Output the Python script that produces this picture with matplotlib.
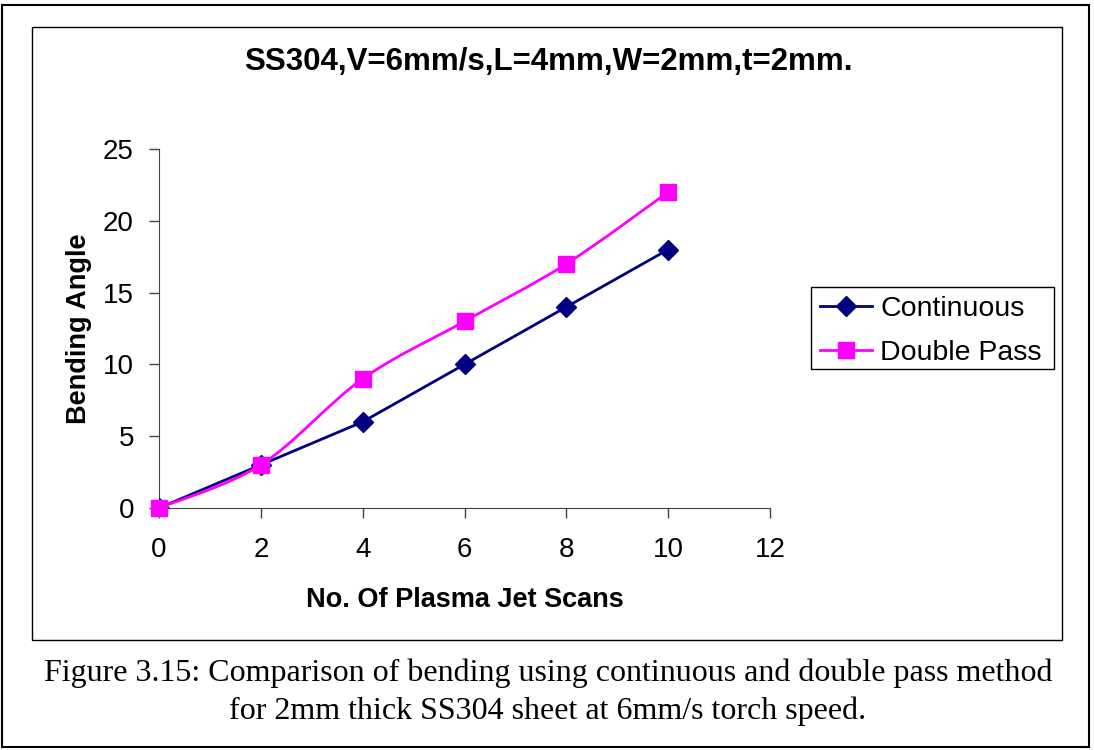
import numpy as np
import matplotlib
matplotlib.use('Agg')
import matplotlib.pyplot as plt
from matplotlib.patches import Rectangle
from matplotlib.path import Path
from matplotlib.patches import PathPatch
from matplotlib.lines import Line2D

# data #
scans = [0, 2, 4, 6, 8, 10]
continuous = [0, 3, 6, 10, 14, 18]
double_pass = [0, 3, 9, 13, 17, 22]

title = 'SS304,V=6mm/s,L=4mm,W=2mm,t=2mm.'
caption = ('Figure 3.15: Comparison of bending using continuous and double pass method\n'
           'for 2mm thick SS304 sheet at 6mm/s torch speed.')

navy = '#000080'
magenta = '#FF00FF'

plt.rcParams['font.family'] = ['Liberation Sans', 'DejaVu Sans']


def excel_smooth(xs, ys):
    # Bezier smoothing like spreadsheet "smoothed line"
    x = np.asarray(xs, float)
    y = np.asarray(ys, float)
    n = len(x)
    verts = [(x[0], y[0])]
    codes = [Path.MOVETO]
    for i in range(n - 1):
        p0 = np.array([x[max(i - 1, 0)], y[max(i - 1, 0)]])
        p1 = np.array([x[i], y[i]])
        p2 = np.array([x[i + 1], y[i + 1]])
        p3 = np.array([x[min(i + 2, n - 1)], y[min(i + 2, n - 1)]])
        c1 = p1 + (p2 - p0) / 6
        c2 = p2 - (p3 - p1) / 6
        verts += [tuple(c1), tuple(c2), tuple(p2)]
        codes += [Path.CURVE4] * 3
    return Path(verts, codes)


fig = plt.figure(figsize=(10.94, 7.5), dpi=100)

# frames
fig.patches.append(Rectangle((2 / 1094, 3 / 750), 1087 / 1094, 742 / 750, transform=fig.transFigure,
                             fill=False, edgecolor='black', linewidth=1.5))
fig.patches.append(Rectangle((32 / 1094, 110 / 750), 1030 / 1094, 613 / 750, transform=fig.transFigure,
                             fill=False, edgecolor='black', linewidth=1.0))
# legend frame
fig.patches.append(Rectangle((811 / 1094, 1 - 369 / 750), 243 / 1094, 82 / 750, transform=fig.transFigure,
                             fill=False, edgecolor='black', linewidth=1.0))

ax = fig.add_axes([159 / 1094, 242 / 750, 611 / 1094, 359 / 750])

ax.plot(scans, continuous, color=navy, linewidth=2, marker='D', markersize=10, zorder=3)
ax.add_patch(PathPatch(excel_smooth(scans, double_pass), fill=False, edgecolor=magenta,
                       linewidth=2, zorder=3, clip_on=False))
ax.plot(scans, double_pass, linestyle='none', color=magenta, marker='s', markersize=12, zorder=4,
        clip_on=False)

ax.set_xlim(0, 12)
ax.set_ylim(0, 25)
ax.set_xticks(range(0, 13, 2))
ax.set_yticks(range(0, 26, 5))
for s in ['top', 'right']:
    ax.spines[s].set_visible(False)
for s in ['left', 'bottom']:
    ax.spines[s].set_color('#444444')
ax.tick_params(direction='out', length=7, width=1, color='#444444', labelsize=20)
ax.tick_params(axis='x', pad=14)
ax.tick_params(axis='y', pad=11)
ax.set_xlabel('No. Of Plasma Jet Scans', fontsize=19.5, fontweight='bold', labelpad=17)
ax.set_ylabel('Bending Angle', fontsize=19.5, fontweight='bold', labelpad=8)

fig.text(548 / 1094, 1 - 62 / 750, title, ha='center', va='center', fontsize=22.5, fontweight='bold')

handles = [Line2D([], [], color=navy, linewidth=2, marker='D', markersize=10),
           Line2D([], [], color=magenta, linewidth=2, marker='s', markersize=12)]
leg = fig.legend(handles, ['Continuous', 'Double Pass'], loc='center left',
                 bbox_to_anchor=(811 / 1094, 1 - 331 / 750), fontsize=20.5, frameon=False,
                 borderpad=0, handlelength=1.85, handletextpad=0.28,
                 labelspacing=0.62, borderaxespad=0.3)

fig.text(548 / 1094, 1 - 692 / 750, caption, ha='center', va='center', fontsize=23,
         family=['Liberation Serif', 'DejaVu Serif'], linespacing=1.36)

fig.savefig('out.png', dpi=100)
